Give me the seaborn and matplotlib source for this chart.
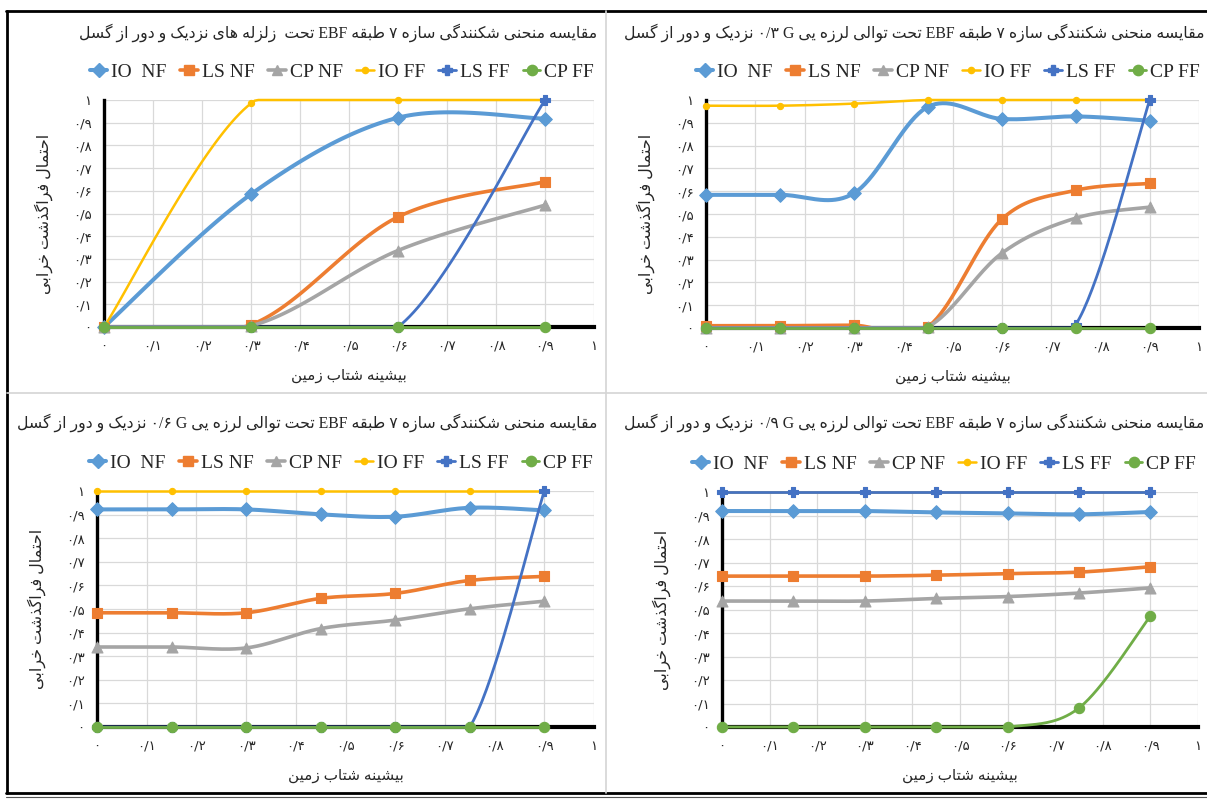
import numpy as np
import matplotlib
matplotlib.use("Agg")
import matplotlib.pyplot as plt
from matplotlib.lines import Line2D
from matplotlib import font_manager
from matplotlib.ft2font import FT2Font
import seaborn as sns

# ---------------------------------------------------------------- data
pga_4 = [0.0, 0.3, 0.6, 0.9]
pga_7 = [0.0, 0.15, 0.3, 0.45, 0.6, 0.75, 0.9]

series_names = ["IO  NF", "LS NF", "CP NF", "IO FF", "LS FF", "CP FF"]

# (a) near / far-field records
a_io_nf = [0.0, 0.585, 0.922, 0.918]
a_ls_nf = [0.0, 0.01, 0.485, 0.640]
a_cp_nf = [0.0, 0.005, 0.337, 0.537]
a_io_ff = [0.0, 0.985, 1.0, 1.0]
a_ls_ff = [0.0, 0.0, 0.0, 1.0]
a_cp_ff = [0.0, 0.0, 0.0, 0.0]

# (b) sequence, first shock 0.3 g
b_io_nf = [0.584, 0.584, 0.591, 0.970, 0.917, 0.928, 0.909]
b_ls_nf = [0.01, 0.01, 0.012, 0.005, 0.477, 0.604, 0.634]
b_cp_nf = [0.0, 0.0, 0.0, 0.005, 0.328, 0.482, 0.530]
b_io_ff = [0.975, 0.975, 0.984, 1.0, 1.0, 1.0, 1.0]
b_ls_ff = [0.0, 0.0, 0.0, 0.0, 0.0, 0.015, 1.0]
b_cp_ff = [0.0, 0.0, 0.0, 0.0, 0.0, 0.0, 0.0]

# (c) sequence, first shock 0.6 g
c_io_nf = [0.922, 0.922, 0.922, 0.901, 0.891, 0.929, 0.918]
c_ls_nf = [0.484, 0.484, 0.484, 0.545, 0.566, 0.621, 0.638]
c_cp_nf = [0.339, 0.339, 0.335, 0.417, 0.453, 0.501, 0.533]
c_io_ff = [1.0, 1.0, 1.0, 1.0, 1.0, 1.0, 1.0]
c_ls_ff = [0.0, 0.0, 0.0, 0.0, 0.0, 0.0, 1.0]
c_cp_ff = [0.0, 0.0, 0.0, 0.0, 0.0, 0.0, 0.0]

# (d) sequence, first shock 0.9 g
d_io_nf = [0.919, 0.919, 0.919, 0.913, 0.909, 0.905, 0.915]
d_ls_nf = [0.642, 0.642, 0.642, 0.646, 0.653, 0.659, 0.682]
d_cp_nf = [0.536, 0.536, 0.536, 0.547, 0.555, 0.570, 0.592]
d_io_ff = [1.0, 1.0, 1.0, 1.0, 1.0, 1.0, 1.0]
d_ls_ff = [1.0, 1.0, 1.0, 1.0, 1.0, 1.0, 1.0]
d_cp_ff = [0.0, 0.0, 0.0, 0.0, 0.0, 0.081, 0.472]

title_a = "مقایسه منحنی شکنندگی سازه ۷ طبقه EBF تحت  زلزله های نزدیک و دور از گسل"
title_b = "مقایسه منحنی شکنندگی سازه ۷ طبقه EBF تحت توالی لرزه یی G ۰/۳ نزدیک و دور از گسل"
title_c = "مقایسه منحنی شکنندگی سازه ۷ طبقه EBF تحت توالی لرزه یی G ۰/۶ نزدیک و دور از گسل"
title_d = "مقایسه منحنی شکنندگی سازه ۷ طبقه EBF تحت توالی لرزه یی G ۰/۹ نزدیک و دور از گسل"
x_title = "بیشینه شتاب زمین"
y_title = "احتمال فراگذشت خرابی"

tick_values = [0.0, 0.1, 0.2, 0.3, 0.4, 0.5, 0.6, 0.7, 0.8, 0.9, 1.0]

# ---------------------------------------------------------------- styles
colors = ["#5B9BD5", "#ED7D31", "#A5A5A5", "#FFC000", "#4472C4", "#70AD47"]
widths = [2.9, 2.6, 2.6, 1.8, 2.0, 2.0]
markers = ["D", "s", "^", "o", "P", "o"]
msizes = [48, 55, 62, 20, 48, 55]

sns.set_theme(style="white")
plt.rcParams["font.family"] = ["Liberation Serif", "DejaVu Sans"]

# ------------------------------------------------- Persian text shaping
AR_FORMS = {
    "\u0627": (0xFE8D, 0xFE8E, None, None),
    "\u0628": (0xFE8F, 0xFE90, 0xFE91, 0xFE92),
    "\u062A": (0xFE95, 0xFE96, 0xFE97, 0xFE98),
    "\u062D": (0xFEA1, 0xFEA2, 0xFEA3, 0xFEA4),
    "\u062E": (0xFEA5, 0xFEA6, 0xFEA7, 0xFEA8),
    "\u062F": (0xFEA9, 0xFEAA, None, None),
    "\u0630": (0xFEAB, 0xFEAC, None, None),
    "\u0631": (0xFEAD, 0xFEAE, None, None),
    "\u0632": (0xFEAF, 0xFEB0, None, None),
    "\u0633": (0xFEB1, 0xFEB2, 0xFEB3, 0xFEB4),
    "\u0634": (0xFEB5, 0xFEB6, 0xFEB7, 0xFEB8),
    "\u0637": (0xFEC1, 0xFEC2, 0xFEC3, 0xFEC4),
    "\u0641": (0xFED1, 0xFED2, 0xFED3, 0xFED4),
    "\u0642": (0xFED5, 0xFED6, 0xFED7, 0xFED8),
    "\u0644": (0xFEDD, 0xFEDE, 0xFEDF, 0xFEE0),
    "\u0645": (0xFEE1, 0xFEE2, 0xFEE3, 0xFEE4),
    "\u0646": (0xFEE5, 0xFEE6, 0xFEE7, 0xFEE8),
    "\u0647": (0xFEE9, 0xFEEA, 0xFEEB, 0xFEEC),
    "\u0648": (0xFEED, 0xFEEE, None, None),
    "\u06A9": (0xFB8E, 0xFB8F, 0xFB90, 0xFB91),
    "\u06AF": (0xFB92, 0xFB93, 0xFB94, 0xFB95),
    "\u06CC": (0xFBFC, 0xFBFD, 0xFBFE, 0xFBFF),
}
FALLBACK = {
    "\u06A9": (0xFED9, 0xFEDA, 0xFEDB, 0xFEDC),
    "\u06CC": (0xFEEF, 0xFEF0, 0xFEF3, 0xFEF4),
}
_cmap = FT2Font(font_manager.findfont("DejaVu Sans")).get_charmap()
for ch, forms in list(AR_FORMS.items()):
    if any(f is not None and f not in _cmap for f in forms) and ch in FALLBACK:
        AR_FORMS[ch] = FALLBACK[ch]


def shape_word(word):
    out = []
    for i, ch in enumerate(word):
        forms = AR_FORMS.get(ch)
        if forms is None:
            out.append(ch)
            continue
        prev = word[i - 1] if i > 0 else None
        nxt = word[i + 1] if i + 1 < len(word) else None
        join_prev = prev in AR_FORMS and AR_FORMS[prev][2] is not None
        join_next = forms[2] is not None and nxt in AR_FORMS
        if join_prev and join_next:
            cp = forms[3]
        elif join_prev:
            cp = forms[1]
        elif join_next:
            cp = forms[2]
        else:
            cp = forms[0]
        out.append(chr(cp))
    return "".join(out)


def rtl(text):
    vis = []
    for w in text.split(" "):
        if any(c in AR_FORMS for c in w):
            vis.append(shape_word(w)[::-1])
        else:
            vis.append(w)
    return " ".join(vis[::-1])


FA_DIGITS = str.maketrans("0123456789.", "۰۱۲۳۴۵۶۷۸۹/")


def fa_num(v):
    s = f"{v:.1f}"
    if s.endswith(".0"):
        s = s[:-2]
    return s.translate(FA_DIGITS)


def smooth(x, y, n=40):
    """Bezier smoothing through the points (spreadsheet-style smoothed line)."""
    P = np.column_stack([x, y]).astype(float)
    m = len(P)
    segs = []
    for i in range(m - 1):
        p0 = P[i - 1] if i > 0 else P[i]
        p1, p2 = P[i], P[i + 1]
        p3 = P[i + 2] if i + 2 < m else P[i + 1]
        c1 = p1 + (p2 - p0) / 6.0
        c2 = p2 - (p3 - p1) / 6.0
        t = np.linspace(0, 1, n, endpoint=(i == m - 2))[:, None]
        segs.append((1 - t) ** 3 * p1 + 3 * (1 - t) ** 2 * t * c1
                    + 3 * (1 - t) * t ** 2 * c2 + t ** 3 * p2)
    S = np.vstack(segs)
    return S[:, 0], np.clip(S[:, 1], 0, 1)


W, H = 1207, 799
fig = plt.figure(figsize=(W / 100, H / 100), dpi=100)
fig.patch.set_facecolor("white")


def px_axes(left, right, top, bottom):
    return fig.add_axes([left / W, 1 - bottom / H, (right - left) / W, (bottom - top) / H])


# axes box (px), legend centre x (px), title anchor (px)
panels = [
    ((104, 594, 100, 327), 342, pga_4,
     [a_io_nf, a_ls_nf, a_cp_nf, a_io_ff, a_ls_ff, a_cp_ff], title_a, (597, 33, "right")),
    ((706, 1199, 100, 328), 948, pga_7,
     [b_io_nf, b_ls_nf, b_cp_nf, b_io_ff, b_ls_ff, b_cp_ff], title_b, (1204, 33, "right")),
    ((97, 594, 491, 727), 341, pga_7,
     [c_io_nf, c_ls_nf, c_cp_nf, c_io_ff, c_ls_ff, c_cp_ff], title_c, (597, 423, "right")),
    ((722, 1198, 492, 727), 944, pga_7,
     [d_io_nf, d_ls_nf, d_cp_nf, d_io_ff, d_ls_ff, d_cp_ff], title_d, (1204, 423, "right")),
]

tick_labels = [fa_num(v) for v in tick_values]
ar_font = ["Liberation Serif", "DejaVu Sans"]

for box, leg_cx, xs, ys_list, title, (tx, ty, tha) in panels:
    ax = px_axes(*box)
    left, right, top, bottom = box
    ax.set_xlim(0, 1)
    ax.set_ylim(0, 1)
    ax.set_xticks(tick_values)
    ax.set_yticks(tick_values)
    ax.set_xticklabels(tick_labels, family="DejaVu Sans", fontsize=9.5)
    ax.set_yticklabels(tick_labels, family="DejaVu Sans", fontsize=9.5)
    ax.tick_params(length=0, pad=9)
    ax.grid(True, color="#D9D9D9", lw=0.9)
    for s in ["top", "right"]:
        ax.spines[s].set_visible(False)
    ax.spines["left"].set_color("black")
    ax.spines["left"].set_linewidth(2.4)
    ax.spines["bottom"].set_color("black")
    ax.spines["bottom"].set_linewidth(3.0)
    ax.set_axisbelow(True)

    for k, ys in enumerate(ys_list):
        sx, sy = smooth(xs, ys)
        sns.lineplot(x=sx, y=sy, ax=ax, color=colors[k], linewidth=widths[k],
                     sort=False, estimator=None, zorder=3 + k, clip_on=False)
        sns.scatterplot(x=xs, y=ys, ax=ax, marker=markers[k], s=msizes[k],
                        color=colors[k], edgecolor=colors[k], linewidth=0.8,
                        zorder=3.5 + k, clip_on=False)

    ax.set_xlabel(rtl(x_title), family=ar_font, fontsize=11, labelpad=12)
    ax.set_ylabel(rtl(y_title), family=ar_font, fontsize=11.5, labelpad=14)

    handles = [Line2D([0], [0], color=colors[k], lw=widths[k], marker=markers[k],
                      markersize=np.sqrt(msizes[k]), markeredgecolor=colors[k])
               for k in range(6)]
    ax.legend(handles, series_names, ncol=6, loc="center",
              bbox_to_anchor=((leg_cx - left) / (right - left), 1 + 28 / (bottom - top)),
              frameon=False, handlelength=0.9, handletextpad=0.2, columnspacing=0.7,
              prop={"family": "Liberation Serif", "size": 14})

    fig.text(tx / W, 1 - ty / H, rtl(title), ha=tha, va="center",
             family=ar_font, fontsize=11.3)

# frame and panel separators
def hline(y, x0, x1, **kw):
    fig.add_artist(Line2D([x0 / W, x1 / W], [1 - y / H, 1 - y / H], **kw))


def vline(x, y0, y1, **kw):
    fig.add_artist(Line2D([x / W, x / W], [1 - y0 / H, 1 - y1 / H], **kw))


hline(11, 6, W, color="black", lw=2.0)
hline(793, 6, W, color="black", lw=2.0)
hline(797, 6, W, color="#555555", lw=0.8)
vline(7, 11, 793, color="black", lw=2.0)
hline(393, 7, W, color="#D4D4D4", lw=1.2)
vline(606, 11, 793, color="#D4D4D4", lw=1.2)

fig.savefig("out.png", dpi=100)
